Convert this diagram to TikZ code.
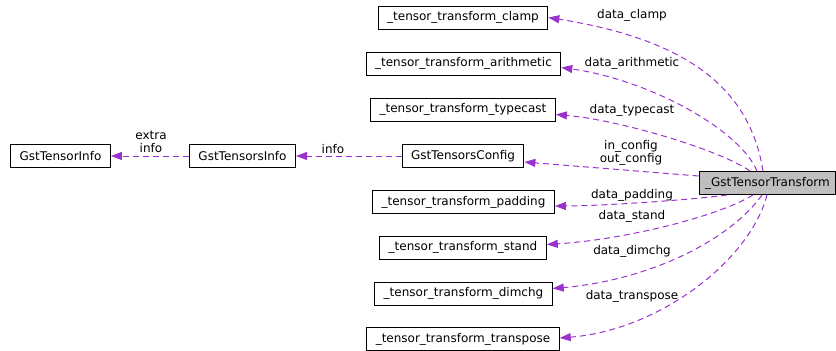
\documentclass[tikz,border=0pt]{standalone}
\usepackage{fontspec}
\setmainfont{DejaVu Sans}
\usetikzlibrary{arrows.meta}
\definecolor{usecol}{HTML}{9A32CD}

\begin{document}
\begin{tikzpicture}[x=1pt,y=-1pt,
  every node/.style={font=\fontsize{12}{13}\selectfont},
  cls/.style={draw=black, line width=1pt, inner xsep=9pt, inner ysep=0pt, minimum height=23pt},
  root/.style={cls, fill=black!25, inner xsep=6pt},
  use/.style={draw=usecol, line width=1pt, dash pattern=on 6pt off 4pt, -{Triangle[length=11pt,width=8pt]}},
  lbl/.style={inner sep=0pt, align=center}]
\useasboundingbox (0,0) rectangle (836,351);
% classes
\node[root] (trans) at (767.5,183) {\_GstTensorTransform};
\node[cls] (clamp) at (463,17.5) {\_tensor\_transform\_clamp};
\node[cls] (arith) at (463.5,63.5) {\_tensor\_transform\_arithmetic};
\node[cls] (tcast) at (463,109.5) {\_tensor\_transform\_typecast};
\node[cls] (config) at (463,156) {GstTensorsConfig};
\node[cls] (pad) at (463.5,202) {\_tensor\_transform\_padding};
\node[cls] (stand) at (463,247.5) {\_tensor\_transform\_stand};
\node[cls] (dimchg) at (463.5,293.5) {\_tensor\_transform\_dimchg};
\node[cls] (transp) at (463,339) {\_tensor\_transform\_transpose};
\node[cls] (tsinfo) at (242.5,156) {GstTensorsInfo};
\node[cls] (tinfo) at (60.5,156) {GstTensorInfo};
% member labels
\node[lbl] (lclamp) at (632,15) {data\_clamp};
\node[lbl] (larith) at (632,63) {data\_arithmetic};
\node[lbl] (ltcast) at (632,110) {data\_typecast};
\node[lbl] (lconfig) at (631,153) {in\_config\\out\_config};
\node[lbl] (lpad) at (632,195) {data\_padding};
\node[lbl] (lstand) at (632,216) {data\_stand};
\node[lbl] (ldimchg) at (632,251) {data\_dimchg};
\node[lbl] (ltransp) at (632,296) {data\_transpose};
\node[lbl] (ltsinfo) at (151,142) {extra\\info};
\node[lbl] (ltinfo) at (333,149) {info};
% usage edges
\draw[use] ([xshift=-4.5pt]trans.north) .. controls (750,90) and (690,40) .. (clamp.east);
\draw[use] ([xshift=-10.5pt]trans.north) .. controls (740,130) and (650,80) .. ([yshift=-4pt]arith.east);
\draw[use] ([xshift=-17.5pt]trans.north) .. controls (720,150) and (620,120) .. ([yshift=-5pt]tcast.east);
\draw[use] ([yshift=7pt]trans.west) -- ([yshift=-6pt]config.east);
\draw[use] ([xshift=-40.5pt]trans.south) .. controls (690,200) and (600,206) .. ([yshift=-4pt]pad.east);
\draw[use] ([xshift=-14.5pt]trans.south) .. controls (715,218) and (620,240) .. ([yshift=3pt]stand.east);
\draw[use] ([xshift=-5.5pt]trans.south) .. controls (730,240) and (650,280) .. ([yshift=5pt]dimchg.east);
\draw[use] ([xshift=-0.5pt]trans.south) .. controls (750,260) and (660,330) .. ([yshift=1pt]transp.east);
\draw[use] (config) -- (tsinfo);
\draw[use] (tsinfo) -- (tinfo);
\end{tikzpicture}
\end{document}
